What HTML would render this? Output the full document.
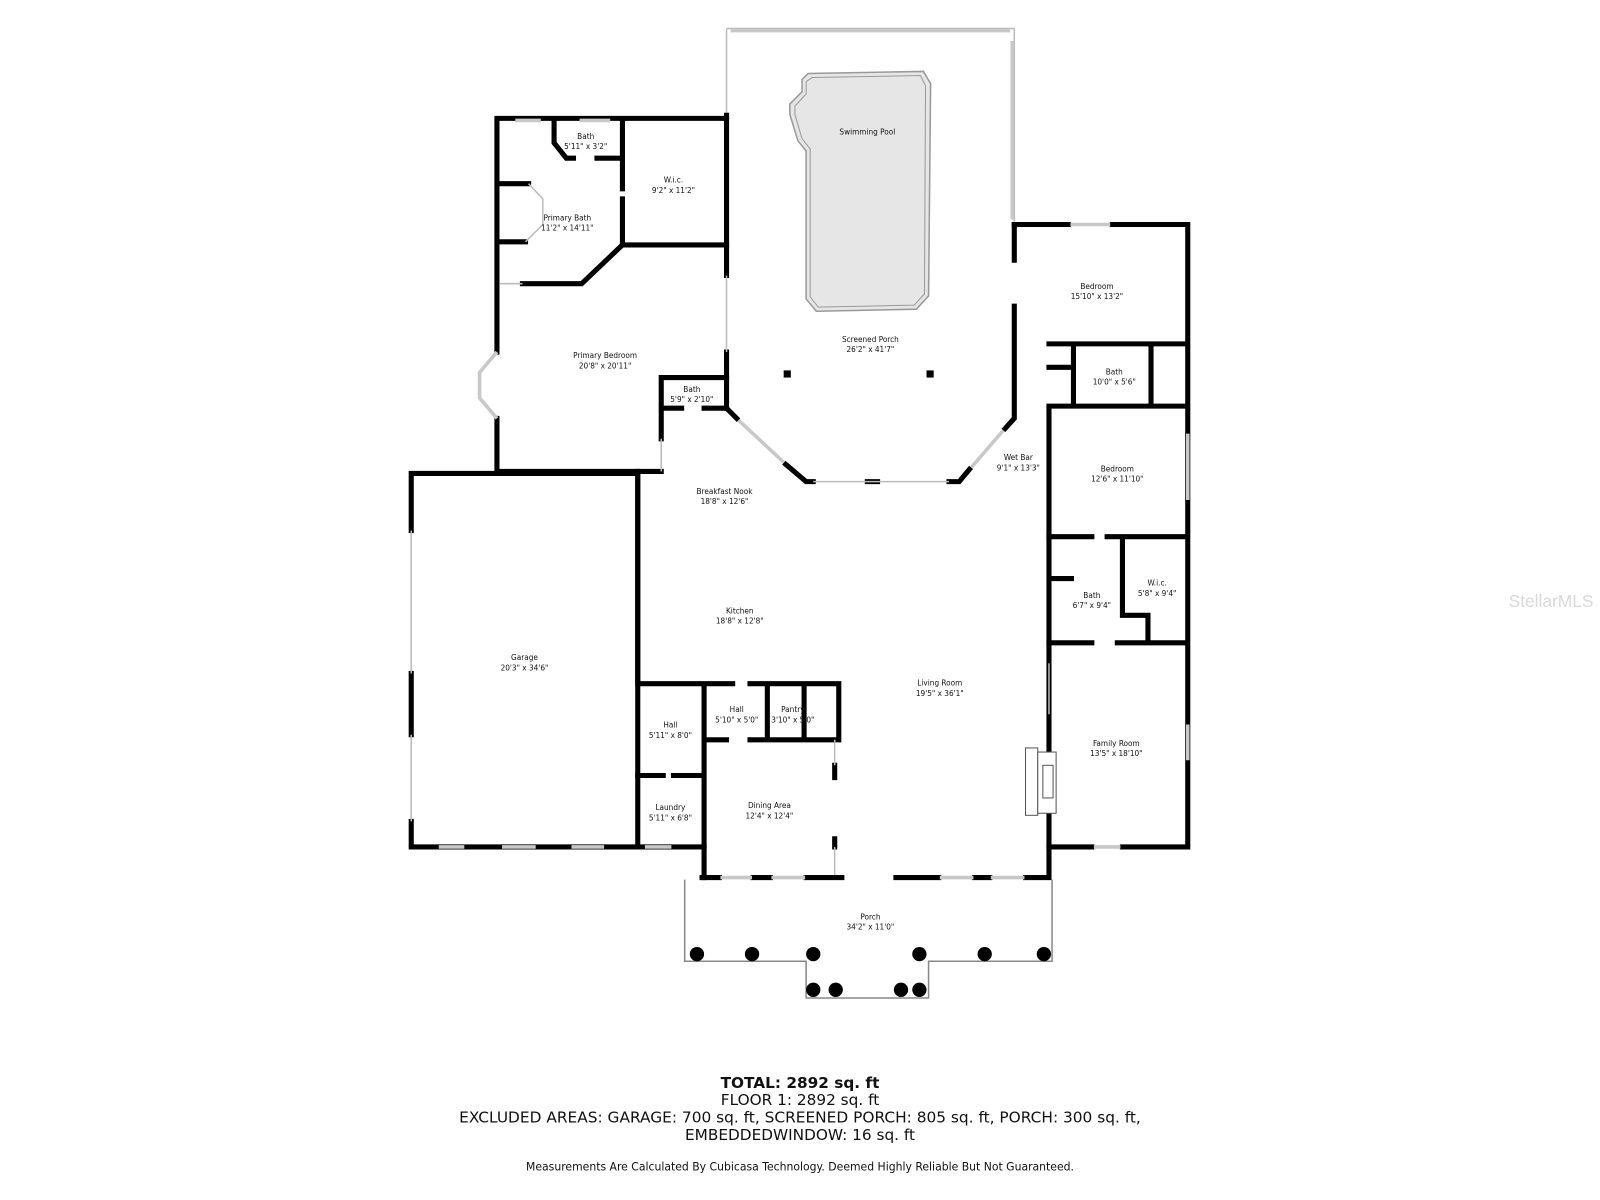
<!DOCTYPE html>
<html><head><meta charset="utf-8"><style>
html,body{margin:0;padding:0;background:#fff;}
svg{display:block}
text{font-family:"DejaVu Sans Condensed","DejaVu Sans","Liberation Sans",sans-serif;fill:#111;text-anchor:middle}
.l{font-size:8px}
.w{stroke:#000;stroke-width:5;fill:none;stroke-linecap:square}
.t{stroke:#bbb;stroke-width:1.5;fill:none}
.win{stroke:#c8c8c8;stroke-width:3.5;fill:none}
</style></head><body>
<svg width="1600" height="1200" viewBox="0 0 1568 1176" preserveAspectRatio="none" xmlns="http://www.w3.org/2000/svg">
<rect width="1568" height="1176" fill="#fff"/>
<path class="t" d="M712,28 L994,28 L994,220 M712,28 L712,113"/>
<path class="win" d="M716,30 L990,30 M992,40 L992,215"/>
<path d="M792,72 L905,70 L912,82 L910,290 L898,303 L800,305 L790,293 L790,148 L782,138 L774,112 L774,102 L786,90 L786,78 Z" fill="#e6e6e6" stroke="#999" stroke-width="1.5"/>
<path d="M796,76 L902,74 L907,84 L906,288 L896,299 L802,301 L794,291 L794,146 L786,136 L779,112 L779,104 L790,92 L790,80 Z" fill="none" stroke="#999" stroke-width="1"/>
<path class="w" d="M712,113 L712,270 M712,345 L712,400"/>
<path class="t" d="M712,270 L712,345"/>
<path class="w" d="M712,400 L722,410 M770,455 L790,472 L797,472 M850,472 L860,472 M930,472 L940,472 L950,460 M985,420 L994,410 L994,300 M994,255 L994,220"/>
<path class="win" d="M724,412 L768,453 M952,458 L983,422"/>
<path class="t" d="M797,472 L930,472"/>
<rect x="768" y="363" width="7" height="7"/><rect x="908" y="363" width="7" height="7"/>
<path class="w" d="M487,116 L712,116 M487,116 L487,345 M487,410 L487,462 L648,462 M610,116 L610,185 M610,195 L610,240 L712,240 M610,240 L570,278 L512,278 M543,116 L543,140 L555,155 L562,155 M585,155 L610,155"/>
<path class="w" d="M490,180 L518,180 M490,237 L515,237"/>
<path class="t" d="M518,180 L532,195 L532,220 L515,237 M490,278 L512,278"/>
<path class="win" d="M487,345 L470,365 L470,390 L487,410 M505,118 L530,118 M568,118 L598,118"/>
<path class="w" d="M648,370 L712,370 M648,370 L648,430 M648,400 L668,400 M690,400 L712,400"/>
<path class="t" d="M648,430 L648,462"/>
<path class="w" d="M403,464 L625,464 L625,830 M403,464 L403,520 M403,660 L403,720 M403,805 L403,830 L690,830"/>
<path class="t" d="M403,520 L403,660 M403,720 L403,805"/>
<path class="win" d="M430,830 L455,830 M492,830 L525,830 M560,830 L592,830 M632,830 L658,830"/>
<path class="w" d="M625,462 L625,670 L718,670 M735,670 L822,670 L822,725 M690,670 L690,860 M752,670 L752,725 M788,670 L788,725 M690,725 L712,725 M735,725 L822,725 M625,760 L650,760 M660,760 L690,760 M818,750 L818,762 M818,822 L818,830"/>
<path class="t" d="M818,725 L818,750 M818,830 L818,858"/>
<path class="w" d="M688,860 L705,860 M738,860 L755,860 M790,860 L825,860 M878,860 L920,860 M955,860 L970,860 M1005,860 L1028,860 L1028,400"/>
<path class="win" d="M706,860 L737,860 M756,860 L789,860 M921,860 L954,860 M971,860 L1004,860"/>
<path class="w" d="M994,220 L1047,220 M1090,220 L1164,220 L1164,830 L1100,830 M1070,830 L1028,830 M1028,337 L1164,337 M1028,398 L1164,398 M1052,337 L1052,398 M1128,337 L1128,398 M1028,526 L1070,526 M1085,526 L1164,526 M1100,526 L1100,603 L1125,603 L1125,630 M1028,630 L1070,630 M1095,630 L1164,630 M1030,567 L1050,567 M1028,360 L1052,360"/>
<path class="win" d="M1049,220 L1088,220 M1164,425 L1164,490 M1164,710 L1164,745 M1072,830 L1098,830"/>
<path class="t" d="M1028,650 L1028,700"/>
<rect x="1005" y="733" width="12" height="66" fill="#fff" stroke="#555"/>
<rect x="1017" y="737" width="18" height="60" fill="#fff" stroke="#555"/>
<rect x="1022" y="750" width="10" height="32" fill="#fff" stroke="#555"/>
<path class="t" style="stroke:#888" d="M671,862 L671,942 L790,942 L790,978 L910,978 L910,942 L1031,942 L1031,862"/>
<g fill="#000">
<circle cx="683" cy="935" r="7"/><circle cx="737" cy="935" r="7"/><circle cx="797" cy="935" r="7"/><circle cx="901" cy="935" r="7"/><circle cx="965" cy="935" r="7"/><circle cx="1023" cy="935" r="7"/>
<circle cx="797" cy="970" r="7"/><circle cx="819" cy="970" r="7"/><circle cx="883" cy="970" r="7"/><circle cx="901" cy="970" r="7"/>
</g>
<text class="l" x="850" y="132">Swimming Pool</text>
<text class="l" x="574" y="136">Bath</text><text class="l" x="574" y="146">5'11" x 3'2"</text>
<text class="l" x="660" y="179">W.i.c.</text><text class="l" x="660" y="189">9'2" x 11'2"</text>
<text class="l" x="556" y="216">Primary Bath</text><text class="l" x="556" y="226">11'2" x 14'11"</text>
<text class="l" x="1075" y="283">Bedroom</text><text class="l" x="1075" y="293">15'10" x 13'2"</text>
<text class="l" x="853" y="335">Screened Porch</text><text class="l" x="853" y="345">26'2" x 41'7"</text>
<text class="l" x="593" y="351">Primary Bedroom</text><text class="l" x="593" y="361">20'8" x 20'11"</text>
<text class="l" x="678" y="384">Bath</text><text class="l" x="678" y="394">5'9" x 2'10"</text>
<text class="l" x="1092" y="367">Bath</text><text class="l" x="1092" y="377">10'0" x 5'6"</text>
<text class="l" x="998" y="451">Wet Bar</text><text class="l" x="998" y="461">9'1" x 13'3"</text>
<text class="l" x="1095" y="462">Bedroom</text><text class="l" x="1095" y="472">12'6" x 11'10"</text>
<text class="l" x="710" y="484">Breakfast Nook</text><text class="l" x="710" y="494">18'8" x 12'6"</text>
<text class="l" x="1134" y="574">W.i.c.</text><text class="l" x="1134" y="584">5'8" x 9'4"</text>
<text class="l" x="1070" y="586">Bath</text><text class="l" x="1070" y="596">6'7" x 9'4"</text>
<text class="l" x="725" y="601">Kitchen</text><text class="l" x="725" y="611">18'8" x 12'8"</text>
<text class="l" x="514" y="647">Garage</text><text class="l" x="514" y="657">20'3" x 34'6"</text>
<text class="l" x="921" y="672">Living Room</text><text class="l" x="921" y="682">19'5" x 36'1"</text>
<text class="l" x="722" y="698">Hall</text><text class="l" x="722" y="708">5'10" x 5'0"</text>
<text class="l" x="777" y="698">Pantry</text><text class="l" x="777" y="708">3'10" x 5'0"</text>
<text class="l" x="657" y="713">Hall</text><text class="l" x="657" y="723">5'11" x 8'0"</text>
<text class="l" x="1094" y="731">Family Room</text><text class="l" x="1094" y="741">13'5" x 18'10"</text>
<text class="l" x="754" y="792">Dining Area</text><text class="l" x="754" y="802">12'4" x 12'4"</text>
<text class="l" x="657" y="794">Laundry</text><text class="l" x="657" y="804">5'11" x 6'8"</text>
<text class="l" x="853" y="901">Porch</text><text class="l" x="853" y="911">34'2" x 11'0"</text>
<text x="1520" y="595" style="font-size:17px;fill:#d8d8d8;font-family:'Liberation Sans',sans-serif">StellarMLS</text>
<g style="font-family:'DejaVu Sans',sans-serif">
<text x="784" y="1066" style="font-size:15px;font-weight:bold;font-family:'DejaVu Sans',sans-serif">TOTAL: 2892 sq. ft</text>
<text x="784" y="1083" style="font-size:15px;font-family:'DejaVu Sans',sans-serif">FLOOR 1: 2892 sq. ft</text>
<text x="784" y="1100" style="font-size:15px;font-family:'DejaVu Sans',sans-serif" textLength="668" lengthAdjust="spacingAndGlyphs">EXCLUDED AREAS: GARAGE: 700 sq. ft, SCREENED PORCH: 805 sq. ft, PORCH: 300 sq. ft,</text>
<text x="784" y="1117" style="font-size:15px;font-family:'DejaVu Sans',sans-serif">EMBEDDEDWINDOW: 16 sq. ft</text>
</g>
<text x="784" y="1147" style="font-size:11px;font-family:'DejaVu Sans',sans-serif" textLength="537" lengthAdjust="spacingAndGlyphs">Measurements Are Calculated By Cubicasa Technology. Deemed Highly Reliable But Not Guaranteed.</text>
</svg>
</body></html>
